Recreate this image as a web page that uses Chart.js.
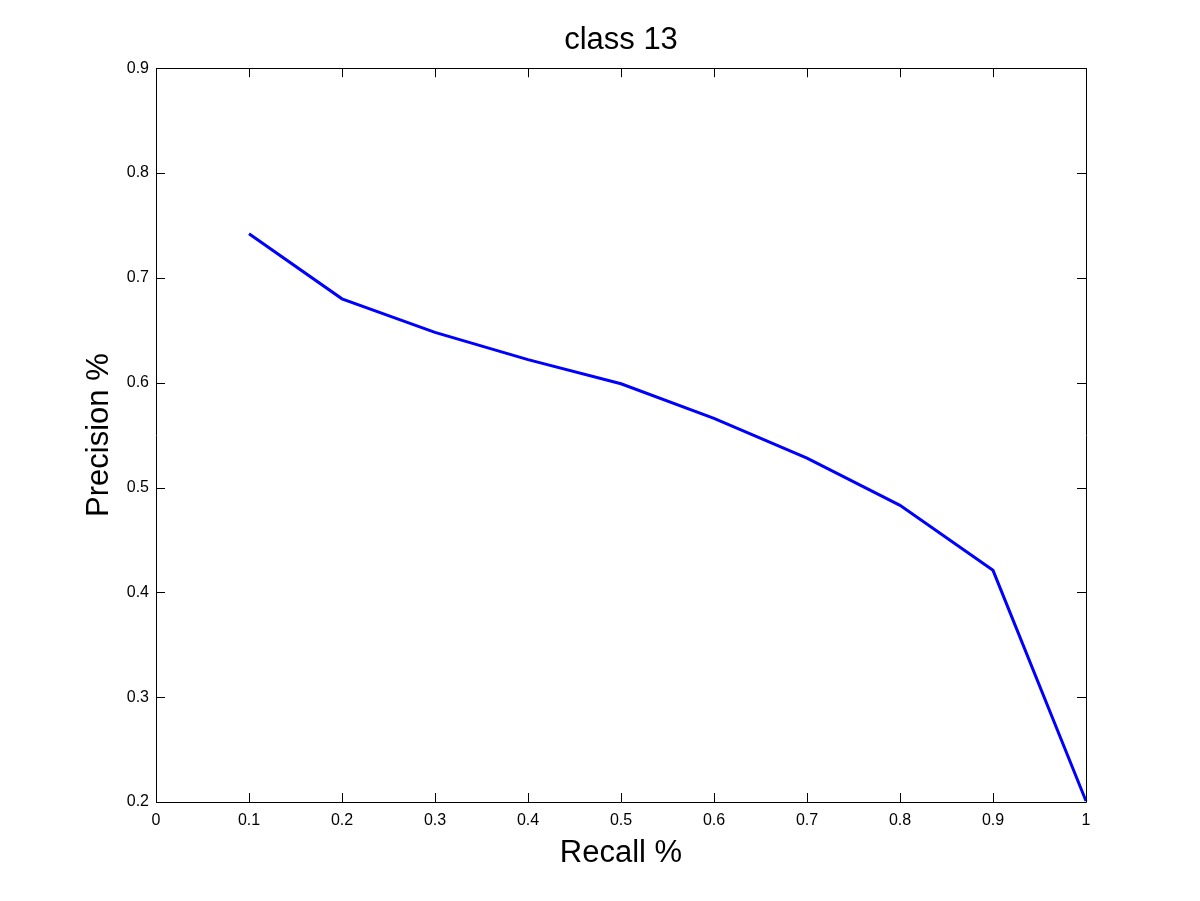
<!DOCTYPE html>
<html>
<head>
<meta charset="utf-8">
<script src="https://cdn.jsdelivr.net/npm/chart.js@4/dist/chart.umd.min.js"></script>
<style>
  html, body { margin: 0; padding: 0; background: #fff; }
  canvas { display: block; }
</style>
</head>
<body>
<canvas id="chart" width="1200" height="901"></canvas>
<script>
// data
const recall = [0.1, 0.2, 0.3, 0.4, 0.5, 0.6, 0.7, 0.8, 0.9, 1.0];
const precision = [0.742, 0.680, 0.648, 0.622, 0.599, 0.566, 0.528, 0.483, 0.421, 0.201];
const xTicks = [0, 0.1, 0.2, 0.3, 0.4, 0.5, 0.6, 0.7, 0.8, 0.9, 1];
const yTicks = [0.2, 0.3, 0.4, 0.5, 0.6, 0.7, 0.8, 0.9];

const FONT = '"Liberation Sans", Arial, Helvetica, sans-serif';

// matlab style box with inward ticks on all four sides
const boxPlugin = {
    id: 'matlabBox',
    afterDraw(chart) {
        const { ctx, chartArea: a, scales } = chart;
        const len = 9;
        ctx.save();
        ctx.strokeStyle = '#000';
        ctx.lineWidth = 1;
        ctx.beginPath();
        ctx.rect(Math.round(a.left) + 0.5, Math.round(a.top) + 0.5,
                 Math.round(a.right - a.left), Math.round(a.bottom - a.top));
        xTicks.forEach(v => {
            const x = Math.round(scales.x.getPixelForValue(v)) + 0.5;
            ctx.moveTo(x, a.bottom); ctx.lineTo(x, a.bottom - len);
            ctx.moveTo(x, a.top); ctx.lineTo(x, a.top + len);
        });
        yTicks.forEach(v => {
            const y = Math.round(scales.y.getPixelForValue(v)) + 0.5;
            ctx.moveTo(a.left, y); ctx.lineTo(a.left + len, y);
            ctx.moveTo(a.right, y); ctx.lineTo(a.right - len, y);
        });
        ctx.stroke();
        ctx.restore();
    }
};

const points = recall.map((r, i) => ({ x: r, y: precision[i] }));

new Chart(document.getElementById('chart'), {
    type: 'line',
    data: {
        datasets: [{
            data: points,
            borderColor: '#0000ff',
            borderWidth: 3,
            pointRadius: 0,
            tension: 0,
            fill: false,
            clip: false
        }]
    },
    options: {
        responsive: false,
        animation: false,
        devicePixelRatio: 1,
        layout: { padding: { left: 0, right: 114, top: 0, bottom: 0 } },
        plugins: {
            legend: { display: false },
            tooltip: { enabled: false },
            title: {
                display: true,
                text: 'class 13',
                fullSize: false,
                color: '#000',
                font: { family: FONT, size: 31, weight: 'normal' },
                padding: { top: 22, bottom: 9 }
            }
        },
        scales: {
            x: {
                type: 'linear',
                min: 0,
                max: 1,
                afterBuildTicks: s => { s.ticks = xTicks.map(v => ({ value: v })); },
                afterFit: s => { s.height = 99; },
                grid: { display: false, drawTicks: false },
                border: { display: false },
                ticks: {
                    color: '#000',
                    padding: 9,
                    maxRotation: 0,
                    font: { family: FONT, size: 16 },
                    callback: v => String(+v.toFixed(1))
                },
                title: {
                    display: true,
                    text: 'Recall %',
                    color: '#000',
                    font: { family: FONT, size: 31 },
                    padding: { top: 0, bottom: 29 }
                }
            },
            y: {
                type: 'linear',
                min: 0.2,
                max: 0.9,
                afterBuildTicks: s => { s.ticks = yTicks.map(v => ({ value: v })); },
                afterFit: s => { s.width = 156; },
                grid: { display: false, drawTicks: false },
                border: { display: false },
                ticks: {
                    color: '#000',
                    padding: 7,
                    font: { family: FONT, size: 16 },
                    callback: v => String(+v.toFixed(1))
                },
                title: {
                    display: true,
                    text: 'Precision %',
                    color: '#000',
                    font: { family: FONT, size: 31 },
                    padding: { top: 81, bottom: 0 }
                }
            }
        }
    },
    plugins: [boxPlugin]
});
</script>
</body>
</html>
